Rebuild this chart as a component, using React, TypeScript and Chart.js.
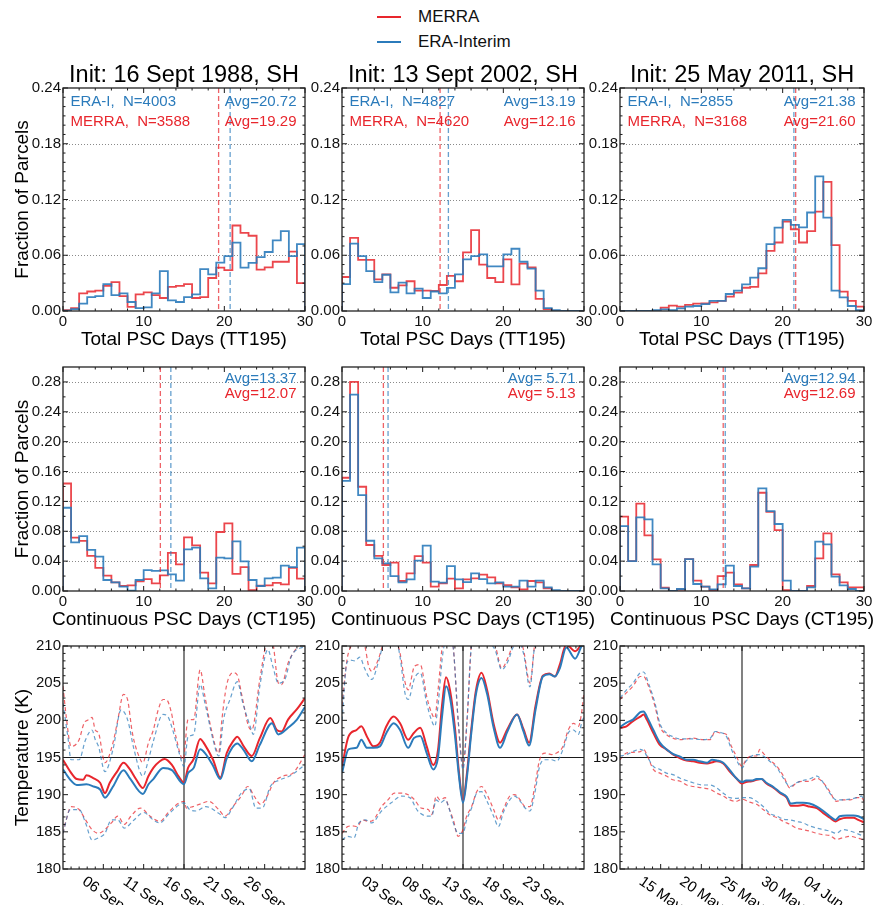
import React, { useEffect, useRef } from 'react';
import { Chart, registerables } from 'chart.js';

Chart.register(...registerables);

type Pt = [number, number];

// ---------------- text ----------------
const PANEL_TITLES = ['Init: 16 Sept 1988, SH', 'Init: 13 Sept 2002, SH', 'Init: 25 May 2011, SH'];
const TT_XLABEL = 'Total PSC Days (TT195)';
const CT_XLABEL = 'Continuous PSC Days (CT195)';
const FRAC_YLABEL = 'Fraction of Parcels';
const TEMP_YLABEL = 'Temperature (K)';
const LEGEND_LABELS = ['MERRA', 'ERA-Interim'];

const N_ERA = [4003, 4827, 2855];
const N_MERRA = [3588, 4620, 3168];
const TT_AVG_ERA = [20.72, 13.19, 21.38];
const TT_AVG_MERRA = [19.29, 12.16, 21.6];
const CT_AVG_ERA = [13.37, 5.71, 12.94];
const CT_AVG_MERRA = [12.07, 5.13, 12.69];

// ---------------- ticks ----------------
const TT_TICKS_Y = [0, 0.06, 0.12, 0.18, 0.24];
const CT_TICKS_Y = [0, 0.04, 0.08, 0.12, 0.16, 0.2, 0.24, 0.28];
const DAYS_TICKS_X = [0, 10, 20, 30];
const TEMP_TICKS_Y = [180, 185, 190, 195, 200, 205, 210];
const DATE_TICK_OFFSETS = [-10, -5, 0, 5, 10];
const DATE_LABELS = [
  ['06 Sep', '11 Sep', '16 Sep', '21 Sep', '26 Sep'],
  ['03 Sep', '08 Sep', '13 Sep', '18 Sep', '23 Sep'],
  ['15 May', '20 May', '25 May', '30 May', '04 Jun'],
];

// ---------------- histograms (fraction per 1-day bin, 0..30) ----------------
const TT88_MERRA = [0.001, 0.003, 0.019, 0.021, 0.022, 0.027, 0.031, 0.016, 0.0045, 0.018, 0.02, 0.017, 0.014, 0.026, 0.027, 0.029, 0.014, 0.015, 0.0355, 0.0467, 0.044, 0.092, 0.084, 0.081, 0.0445, 0.047, 0.053, 0.053, 0.064, 0.03];
const TT88_ERA = [0.0003, 0.002, 0.008, 0.015, 0.016, 0.029, 0.017, 0.019, 0.0097, 0.003, 0.004, 0.019, 0.043, 0.0115, 0.0097, 0.015, 0.018, 0.045, 0.0395, 0.052, 0.059, 0.0736, 0.0467, 0.0517, 0.058, 0.0635, 0.076, 0.086, 0.059, 0.072];
const TT02_MERRA = [0.0366, 0.0786, 0.055, 0.055, 0.034, 0.0395, 0.025, 0.0276, 0.032, 0.022, 0.022, 0.0215, 0.028, 0.0377, 0.032, 0.063, 0.087, 0.05, 0.0355, 0.031, 0.0556, 0.0287, 0.051, 0.047, 0.013, 0.002, 0, 0, 0, 0];
const TT02_ERA = [0.029, 0.0725, 0.059, 0.043, 0.031, 0.039, 0.02, 0.0305, 0.019, 0.024, 0.014, 0.021, 0.019, 0.0248, 0.0395, 0.0556, 0.059, 0.061, 0.048, 0.048, 0.061, 0.067, 0.053, 0.0456, 0.022, 0.003, 0.001, 0, 0, 0];
const TT11_MERRA = [0, 0, 0, 0, 0, 0.0036, 0.0057, 0.0047, 0.0065, 0.008, 0.0083, 0.0093, 0.011, 0.0155, 0.0198, 0.025, 0.026, 0.0406, 0.0647, 0.0737, 0.0963, 0.088, 0.0737, 0.086, 0.107, 0.139, 0.071, 0.0208, 0.011, 0.0047];
const TT11_ERA = [0, 0, 0, 0, 0.001, 0.0018, 0.001, 0.0029, 0.0047, 0.0054, 0.0075, 0.011, 0.011, 0.0183, 0.022, 0.0287, 0.0359, 0.046, 0.072, 0.0898, 0.098, 0.0927, 0.09, 0.106, 0.1448, 0.1006, 0.022, 0.0147, 0.0054, 0.001];

const CT88_MERRA = [0.144, 0.0714, 0.067, 0.047, 0.031, 0.0205, 0.0116, 0.0067, 0.0076, 0.013, 0.016, 0.0103, 0.021, 0.051, 0.0357, 0.0718, 0.061, 0.0245, 0.0103, 0.079, 0.0905, 0.023, 0.032, 0.001, 0.007, 0.0076, 0.011, 0.0089, 0.031, 0.0165];
const CT88_ERA = [0.1115, 0.065, 0.0736, 0.055, 0.046, 0.0147, 0.0116, 0.0058, 0.0004, 0.0147, 0.028, 0.027, 0.0277, 0.0223, 0.0138, 0.0557, 0.058, 0.017, 0.0036, 0.0446, 0.0437, 0.0665, 0.0397, 0.0147, 0.0067, 0.017, 0.0178, 0.034, 0.032, 0.058];
const CT02_MERRA = [0.1517, 0.28, 0.1396, 0.0616, 0.047, 0.0348, 0.038, 0.0134, 0.0236, 0.0468, 0.038, 0.0058, 0.0103, 0.0165, 0.0036, 0.0156, 0.017, 0.0219, 0.0183, 0.0103, 0.008, 0.0049, 0.0022, 0.0134, 0.0116, 0.0036, 0, 0, 0, 0];
const CT02_ERA = [0.1476, 0.263, 0.1284, 0.0673, 0.0437, 0.037, 0.02, 0.0116, 0.0156, 0.0406, 0.0607, 0.0125, 0.0112, 0.0334, 0.0156, 0.012, 0.0236, 0.016, 0.0103, 0.0116, 0.0058, 0.0058, 0.0138, 0.0058, 0.0138, 0.0049, 0.0013, 0, 0, 0];
const CT11_MERRA = [0.0995, 0.04, 0.117, 0.0745, 0.0424, 0.0045, 0, 0.002, 0.0428, 0.0138, 0.0058, 0.0013, 0.02, 0.0245, 0.0089, 0.0036, 0.0348, 0.1316, 0.106, 0.0816, 0.0013, 0, 0, 0.0067, 0.0437, 0.0772, 0.0223, 0.0116, 0.0049, 0.0049];
const CT11_ERA = [0.087, 0.04, 0.0986, 0.0959, 0.0357, 0.0036, 0, 0.0027, 0.0428, 0.0094, 0.0058, 0.0022, 0.0089, 0.0339, 0.0067, 0.0036, 0.0326, 0.1374, 0.107, 0.0897, 0.0138, 0, 0, 0.0049, 0.066, 0.0624, 0.0192, 0.0076, 0.0027, 0];

// ---------------- temperatures: [day offset from init, K] ----------------
const T88_MERRA_MEAN: Pt[] = [[-15, 194.7], [-14.1, 193.1], [-13.3, 192.1], [-12.5, 192.0], [-12.1, 192.6], [-11.2, 192.2], [-10.4, 191.6], [-9.8, 190.2], [-9.2, 191.6], [-8.3, 193.1], [-7.5, 194.3], [-6.7, 193.4], [-5.9, 192.0], [-5.1, 190.9], [-4.4, 192.5], [-3.8, 193.6], [-3.0, 194.5], [-2.4, 194.8], [-1.5, 194.0], [-0.7, 192.5], [0, 191.6], [0.5, 193.6], [1.2, 194.8], [2.0, 197.5], [2.6, 196.7], [3.6, 194.7], [4.5, 192.3], [5.3, 195.6], [6.1, 197.2], [6.6, 197.8], [7.4, 196.5], [8.4, 195.2], [9.4, 197.6], [10.7, 200.3], [11.5, 198.7], [12.1, 198.5], [12.9, 200.1], [14.0, 201.5], [15, 203.0]];
const T88_ERA_MEAN: Pt[] = [[-15, 193.4], [-14.1, 192.0], [-13.3, 191.3], [-12.1, 191.4], [-11.2, 191.1], [-10.4, 190.7], [-9.8, 189.6], [-8.8, 191.1], [-7.5, 193.3], [-6.7, 192.2], [-5.1, 190.1], [-4.4, 191.4], [-3.8, 192.1], [-2.6, 193.6], [-1.5, 193.3], [0, 191.4], [0.5, 192.9], [1.2, 193.6], [2.0, 196.1], [2.6, 195.6], [3.6, 193.9], [4.5, 192.1], [5.3, 194.9], [6.6, 196.9], [7.4, 196.0], [8.4, 194.5], [9.4, 196.7], [10.9, 199.6], [11.7, 198.1], [12.9, 199.0], [14.0, 200.1], [15, 201.8]];
const T88_MERRA_HI: Pt[] = [[-15, 204.6], [-14.6, 200.5], [-14.0, 196.5], [-13.0, 197.4], [-12.4, 199.6], [-11.8, 200.1], [-11.4, 200.4], [-11.0, 198.7], [-10.6, 198.3], [-9.8, 194.3], [-8.8, 197.0], [-8.2, 200.1], [-7.5, 203.5], [-7.0, 202.8], [-6.4, 198.3], [-5.6, 195.2], [-5.1, 194.3], [-4.4, 197.0], [-3.8, 198.7], [-3.2, 201.4], [-2.6, 202.8], [-2.2, 202.8], [-1.6, 201.2], [-1.0, 197.8], [-0.1, 194.7], [0.5, 200.1], [1.2, 200.1], [2.0, 206.8], [2.6, 203.2], [3.4, 198.7], [4.3, 195.6], [4.7, 200.1], [5.3, 204.8], [6.1, 206.4], [6.6, 206.1], [7.2, 203.2], [8.0, 199.2], [8.4, 198.7], [9.4, 205.5], [10.2, 210.2], [10.9, 210.8], [11.7, 205.0], [12.1, 204.8], [12.9, 207.7], [13.8, 209.5], [15, 211.0]];
const T88_ERA_HI: Pt[] = [[-15, 202.3], [-14.4, 197.8], [-14.0, 194.7], [-13.0, 194.7], [-12.2, 197.4], [-11.4, 198.7], [-11.0, 197.4], [-10.6, 196.5], [-9.8, 193.1], [-8.8, 196.1], [-7.8, 201.4], [-7.0, 200.1], [-6.2, 196.1], [-5.1, 192.5], [-4.4, 194.7], [-3.8, 197.2], [-2.6, 200.8], [-2.0, 200.5], [-1.4, 198.7], [-0.6, 195.6], [0, 193.8], [0.5, 197.8], [1.2, 198.1], [2.0, 204.8], [2.6, 202.3], [3.6, 197.4], [4.3, 195.2], [4.9, 200.1], [5.7, 202.8], [6.6, 205.2], [7.3, 202.3], [8.2, 199.2], [8.6, 198.1], [9.4, 204.6], [10.4, 209.5], [11.0, 207.3], [11.7, 205.0], [12.5, 205.5], [13.3, 208.6], [15, 210.0]];
const T88_MERRA_LO: Pt[] = [[-15, 184.8], [-14.6, 186.6], [-14.0, 188.4], [-13.0, 188.0], [-12.2, 186.6], [-11.4, 185.3], [-10.6, 184.8], [-9.8, 185.3], [-9.0, 186.2], [-8.2, 187.1], [-7.4, 186.0], [-6.6, 187.1], [-5.4, 188.2], [-4.2, 187.1], [-3.0, 186.4], [-1.8, 187.8], [0, 189.1], [0.3, 188.2], [1.1, 188.4], [1.9, 188.7], [3.1, 189.1], [4.3, 188.0], [5.1, 187.1], [5.9, 188.2], [7.1, 189.8], [7.9, 191.1], [8.7, 189.8], [9.5, 188.7], [10.3, 189.8], [11.1, 191.6], [12.3, 192.5], [13.5, 192.9], [15, 195.4]];
const T88_ERA_LO: Pt[] = [[-15, 184.8], [-14.1, 188.0], [-13.0, 188.0], [-12.2, 186.2], [-11.4, 183.9], [-10.6, 184.2], [-9.8, 184.8], [-9.0, 186.6], [-8.2, 186.6], [-7.4, 185.5], [-6.2, 186.6], [-5.0, 187.6], [-3.8, 186.6], [-3.0, 186.2], [-1.8, 187.5], [0, 188.9], [0.7, 188.0], [1.5, 187.8], [2.7, 188.4], [4.3, 187.5], [5.1, 186.9], [5.9, 188.0], [7.1, 190.2], [8.1, 190.8], [8.9, 188.2], [9.7, 188.2], [10.7, 191.1], [11.9, 192.0], [13.1, 192.5], [15, 194.0]];

const T02_MERRA_MEAN: Pt[] = [[-15, 193.8], [-14.2, 197.8], [-13.2, 198.7], [-12.6, 199.2], [-11.9, 197.8], [-11.1, 196.5], [-10.3, 197.0], [-9.5, 199.2], [-8.6, 200.5], [-7.8, 199.6], [-6.8, 197.4], [-6.1, 198.3], [-5.3, 199.0], [-4.5, 196.5], [-3.7, 194.0], [-3.1, 196.0], [-2.6, 202.0], [-2.1, 205.8], [-1.6, 204.0], [-1.0, 199.0], [-0.5, 193.0], [0, 189.2], [0.5, 193.0], [1.0, 198.5], [1.6, 204.0], [2.3, 206.4], [3.0, 204.0], [3.8, 199.5], [4.6, 197.0], [5.5, 198.8], [6.7, 200.8], [7.5, 198.8], [8.2, 197.0], [9.0, 202.0], [9.9, 206.0], [10.7, 206.3], [11.4, 205.9], [12.0, 207.5], [12.8, 210.2], [13.9, 209.3], [14.7, 210.3], [15, 211.0]];
const T02_ERA_MEAN: Pt[] = [[-15, 192.9], [-14.2, 196.1], [-13.2, 196.3], [-12.6, 197.4], [-11.9, 196.3], [-11.1, 196.3], [-10.3, 196.5], [-9.5, 198.3], [-8.6, 199.6], [-7.8, 198.7], [-6.8, 196.3], [-6.1, 197.6], [-5.3, 197.9], [-4.5, 195.6], [-3.7, 193.4], [-3.1, 195.0], [-2.6, 200.5], [-2.1, 204.6], [-1.6, 203.0], [-1.0, 198.0], [-0.5, 192.5], [0, 188.9], [0.5, 192.5], [1.0, 198.0], [1.6, 203.5], [2.3, 205.7], [3.0, 203.5], [3.8, 199.0], [4.6, 196.3], [5.5, 198.5], [6.7, 200.8], [7.5, 198.5], [8.2, 196.6], [9.0, 201.5], [9.9, 205.9], [10.7, 206.2], [11.4, 205.9], [12.0, 207.0], [12.8, 209.8], [13.9, 208.3], [14.7, 210.0], [15, 210.5]];
const T02_MERRA_HI: Pt[] = [[-15, 202.0], [-14.4, 208.0], [-14.0, 209.7], [-13.4, 210.3], [-12.8, 210.4], [-12.2, 210.0], [-11.7, 207.3], [-11.3, 206.6], [-10.5, 208.2], [-9.9, 210.2], [-9.1, 211.0], [-8.2, 210.5], [-7.8, 209.0], [-7.2, 205.2], [-6.8, 204.1], [-6.0, 207.3], [-5.3, 207.5], [-4.5, 203.2], [-3.9, 201.0], [-3.5, 200.3], [-3.1, 204.0], [-2.5, 210.5], [-2.0, 211.5], [-1.3, 210.5], [-0.6, 200.0], [0, 193.8], [0.5, 200.0], [1.1, 210.5], [2.3, 212.0], [3.3, 211.0], [4.0, 210.0], [4.8, 207.0], [5.6, 208.5], [6.2, 210.2], [7.0, 211.0], [7.5, 209.5], [8.3, 205.0], [8.9, 210.2], [10.0, 212.0], [15, 213.0]];
const T02_ERA_HI: Pt[] = [[-15, 200.0], [-14.4, 207.7], [-14.0, 208.1], [-13.4, 208.0], [-12.8, 208.5], [-12.2, 207.0], [-11.7, 205.9], [-11.3, 205.5], [-10.5, 207.8], [-9.9, 210.1], [-9.1, 211.0], [-8.2, 210.5], [-7.8, 208.5], [-7.2, 203.7], [-6.8, 202.8], [-6.0, 205.7], [-5.3, 206.4], [-4.5, 202.3], [-3.9, 200.0], [-3.5, 199.2], [-3.1, 202.0], [-2.5, 209.0], [-2.0, 211.0], [-1.3, 210.3], [-0.6, 200.0], [0, 193.4], [0.5, 200.0], [1.1, 210.3], [2.3, 211.5], [3.3, 210.5], [4.0, 209.4], [4.8, 206.8], [5.6, 208.0], [6.2, 209.8], [7.0, 210.5], [7.5, 209.0], [8.3, 204.5], [8.9, 210.0], [10.0, 211.5], [15, 213.0]];
const T02_MERRA_LO: Pt[] = [[-15, 184.8], [-14.3, 185.7], [-13.7, 185.8], [-13.1, 185.7], [-12.5, 186.6], [-11.7, 186.4], [-11.1, 186.6], [-10.1, 188.4], [-9.3, 189.3], [-8.5, 190.2], [-7.6, 190.2], [-6.8, 190.0], [-6.0, 189.3], [-5.2, 188.2], [-4.3, 188.0], [-3.9, 187.3], [-3.3, 189.8], [-2.85, 189.3], [-2.2, 189.6], [-1.8, 188.4], [-1.2, 186.6], [-0.6, 184.4], [0, 185.3], [0.45, 187.1], [1.07, 188.4], [1.7, 190.4], [2.3, 191.1], [2.9, 190.2], [3.8, 188.0], [4.4, 186.6], [5.0, 188.0], [5.8, 189.8], [6.4, 190.0], [7.1, 189.3], [7.7, 188.4], [8.3, 188.4], [8.9, 191.1], [9.5, 194.7], [10.2, 195.6], [11.0, 195.4], [11.6, 195.6], [12.4, 196.5], [13.05, 198.7], [13.7, 199.6], [14.3, 199.2], [14.7, 201.0], [15, 203.7]];
const T02_ERA_LO: Pt[] = [[-15, 183.9], [-14.3, 184.4], [-13.5, 184.2], [-12.9, 186.2], [-12.1, 186.6], [-11.3, 186.2], [-10.1, 187.8], [-8.9, 188.9], [-7.6, 189.8], [-6.6, 189.6], [-5.6, 187.8], [-4.3, 187.1], [-3.9, 187.1], [-3.3, 189.3], [-2.85, 188.9], [-2.2, 189.3], [-1.8, 188.4], [-1.2, 186.2], [-0.6, 184.8], [0, 184.8], [0.45, 186.6], [1.07, 188.2], [1.7, 190.2], [2.3, 190.4], [2.9, 189.3], [3.8, 187.1], [4.4, 185.7], [5.0, 187.6], [5.8, 189.3], [6.4, 189.8], [7.1, 189.1], [7.7, 188.2], [8.3, 187.8], [8.9, 190.2], [9.5, 193.8], [10.2, 194.7], [11.0, 194.7], [11.6, 194.5], [12.4, 196.1], [13.05, 198.3], [13.7, 198.7], [14.3, 198.1], [14.7, 199.6], [15, 200.5]];

const T11_MERRA_MEAN: Pt[] = [[-15, 199.0], [-14.2, 199.2], [-13.4, 199.9], [-12.5, 200.5], [-12.1, 200.8], [-11.7, 200.1], [-10.9, 198.3], [-10.1, 196.7], [-9.3, 196.1], [-8.5, 195.4], [-7.6, 194.9], [-6.8, 194.6], [-6.0, 194.5], [-5.2, 194.3], [-4.3, 194.2], [-3.5, 194.4], [-3.1, 194.5], [-2.3, 194.2], [-1.5, 193.1], [-0.7, 192.2], [0, 191.5], [0.5, 191.7], [1.2, 191.8], [1.8, 192.0], [2.4, 192.1], [3.0, 191.5], [3.9, 190.9], [4.7, 190.2], [5.5, 189.6], [6.0, 188.5], [6.7, 188.5], [7.5, 188.6], [8.3, 188.4], [9.2, 188.2], [10.0, 187.5], [10.8, 186.9], [11.5, 186.4], [12.0, 186.7], [12.9, 186.9], [13.7, 186.9], [14.3, 186.6], [15, 186.3]];
const T11_ERA_MEAN: Pt[] = [[-15, 199.1], [-14.2, 199.7], [-13.4, 200.1], [-12.5, 201.1], [-12.1, 201.2], [-11.7, 200.5], [-10.9, 198.7], [-10.1, 197.0], [-9.3, 196.1], [-8.5, 195.5], [-7.6, 195.1], [-6.8, 194.7], [-6.0, 194.7], [-5.2, 194.5], [-4.3, 194.3], [-3.7, 194.7], [-3.1, 194.6], [-2.3, 194.3], [-1.5, 193.3], [-0.7, 192.2], [0, 191.7], [0.5, 191.9], [1.2, 191.9], [1.8, 192.1], [2.4, 192.1], [3.0, 191.6], [3.9, 191.0], [4.7, 190.3], [5.5, 189.7], [6.0, 188.8], [6.7, 188.9], [7.5, 188.9], [8.3, 188.8], [9.2, 188.4], [10.0, 187.8], [10.8, 187.1], [11.5, 186.6], [12.0, 187.1], [12.9, 187.2], [13.7, 187.2], [14.3, 187.1], [15, 186.7]];
const T11_MERRA_HI: Pt[] = [[-15, 202.8], [-14.4, 203.5], [-13.4, 204.6], [-12.5, 205.9], [-12.1, 205.9], [-11.5, 204.6], [-10.7, 201.9], [-10.1, 199.2], [-9.3, 198.1], [-8.5, 197.6], [-7.6, 197.4], [-6.8, 197.5], [-6.0, 197.6], [-4.8, 197.4], [-3.9, 197.4], [-3.3, 198.5], [-2.7, 198.3], [-1.9, 198.1], [-1.3, 196.5], [-0.7, 195.2], [0, 193.8], [0.5, 194.7], [1.2, 195.2], [1.8, 195.2], [2.2, 196.1], [2.6, 195.6], [3.4, 194.7], [4.3, 193.8], [5.1, 192.5], [5.9, 190.9], [6.7, 191.6], [7.5, 191.8], [8.3, 191.8], [9.2, 192.2], [10.0, 191.6], [10.8, 190.4], [11.6, 189.1], [12.4, 189.3], [13.3, 189.3], [14.1, 189.6], [14.7, 189.6], [15, 189.1]];
const T11_ERA_HI: Pt[] = [[-15, 203.0], [-14.2, 204.1], [-13.4, 205.0], [-12.5, 206.4], [-12.1, 206.5], [-11.5, 205.0], [-10.7, 202.3], [-10.1, 199.6], [-9.3, 198.3], [-8.5, 197.8], [-7.6, 197.5], [-6.8, 197.5], [-6.0, 197.5], [-4.8, 197.4], [-3.9, 197.6], [-3.3, 198.5], [-2.7, 198.4], [-1.9, 197.8], [-1.3, 196.1], [-0.7, 194.7], [0, 193.6], [0.5, 194.5], [1.2, 195.2], [1.8, 195.4], [2.2, 195.4], [2.6, 195.2], [3.4, 194.5], [4.3, 193.6], [5.1, 192.2], [5.9, 191.1], [6.7, 191.6], [7.5, 191.9], [8.3, 192.1], [9.2, 192.5], [10.0, 191.6], [10.8, 190.2], [11.6, 189.3], [12.4, 189.3], [13.3, 189.4], [14.1, 189.6], [14.7, 189.8], [15, 189.1]];
const T11_MERRA_LO: Pt[] = [[-15, 194.7], [-14.2, 195.6], [-13.4, 195.7], [-12.5, 195.8], [-12.1, 196.1], [-11.7, 195.4], [-10.9, 193.4], [-10.1, 192.9], [-9.3, 192.5], [-8.5, 192.0], [-7.6, 191.8], [-6.8, 191.3], [-6.0, 191.1], [-4.8, 190.9], [-3.9, 190.7], [-3.1, 190.2], [-2.3, 189.8], [-1.5, 189.3], [-0.7, 189.1], [0, 189.4], [0.9, 189.0], [1.8, 188.7], [2.6, 188.0], [3.4, 187.3], [4.3, 186.9], [5.1, 186.4], [5.9, 186.0], [6.7, 185.5], [7.5, 185.3], [8.3, 185.1], [9.2, 184.8], [10.0, 184.6], [10.8, 184.5], [11.6, 184.0], [12.4, 184.2], [13.3, 184.4], [14.1, 184.2], [15, 183.9]];
const T11_ERA_LO: Pt[] = [[-15, 195.2], [-14.2, 195.4], [-13.4, 195.8], [-12.5, 196.1], [-12.1, 195.9], [-11.7, 195.2], [-10.9, 193.8], [-10.1, 193.4], [-9.3, 192.9], [-8.5, 192.7], [-7.6, 192.2], [-6.8, 191.9], [-6.0, 191.6], [-4.8, 191.3], [-3.9, 191.3], [-3.1, 190.9], [-2.3, 190.2], [-1.5, 189.6], [-0.7, 189.5], [0, 189.6], [0.9, 189.6], [1.8, 189.1], [2.6, 188.4], [3.4, 187.5], [4.3, 187.1], [5.1, 186.7], [5.9, 186.6], [6.7, 186.4], [7.5, 186.2], [8.3, 185.8], [9.2, 185.5], [10.0, 185.3], [10.8, 185.1], [11.6, 184.8], [12.4, 185.3], [13.3, 185.1], [14.1, 184.8], [15, 184.4]];

// ---------------- grouping ----------------
const TT_MERRA = [TT88_MERRA, TT02_MERRA, TT11_MERRA];
const TT_ERA = [TT88_ERA, TT02_ERA, TT11_ERA];
const CT_MERRA = [CT88_MERRA, CT02_MERRA, CT11_MERRA];
const CT_ERA = [CT88_ERA, CT02_ERA, CT11_ERA];
const TEMP_SETS = [
  { eraMean: T88_ERA_MEAN, merraMean: T88_MERRA_MEAN, eraHi: T88_ERA_HI, eraLo: T88_ERA_LO, merraHi: T88_MERRA_HI, merraLo: T88_MERRA_LO },
  { eraMean: T02_ERA_MEAN, merraMean: T02_MERRA_MEAN, eraHi: T02_ERA_HI, eraLo: T02_ERA_LO, merraHi: T02_MERRA_HI, merraLo: T02_MERRA_LO },
  { eraMean: T11_ERA_MEAN, merraMean: T11_MERRA_MEAN, eraHi: T11_ERA_HI, eraLo: T11_ERA_LO, merraHi: T11_MERRA_HI, merraLo: T11_MERRA_LO },
];

// ---------------- style / geometry ----------------
const FONT = "'Liberation Sans', Arial, Helvetica, sans-serif";
const RED = '#e8262d';
const BLUE = '#2b7bbb';
const RED_H = 'rgba(232,38,45,0.85)';
const BLUE_H = 'rgba(43,123,187,0.9)';
const RED_D = 'rgba(232,38,45,0.72)';
const BLUE_D = 'rgba(43,123,187,0.72)';
const INK = '#1a1a1a';
const FIG_W = 878;
const FIG_H = 905;
const COL_L = [63, 342, 620];
const COL_R = [305, 584, 864];
const ROW_T = [88, 367, 646];
const ROW_B = [311, 591, 869];
const YAXIS_W = 50;
const XAXIS_H = 30;

Chart.defaults.font.family = FONT;

function stepPoints(vals: number[]) {
  const pts: { x: number; y: number }[] = [{ x: 0, y: 0 }];
  vals.forEach((v, i) => {
    pts.push({ x: i, y: v });
    pts.push({ x: i + 1, y: v });
  });
  pts.push({ x: vals.length, y: 0 });
  return pts;
}

function minorValues(min: number, max: number, step: number, majors: number[]) {
  const out: number[] = [];
  for (let k = 1; ; k++) {
    const v = +(min + k * step).toFixed(6);
    if (v >= max - 1e-9) break;
    if (majors.some((m) => Math.abs(m - v) < 1e-9)) continue;
    out.push(v);
  }
  return out;
}

function makePlugin(row: number, col: number) {
  const isTemp = row === 2;
  const xMin = isTemp ? -15 : 0;
  const xMax = isTemp ? 15 : 30;
  const xMajor = isTemp ? DATE_TICK_OFFSETS : DAYS_TICKS_X;
  const xMinor = minorValues(xMin, xMax, isTemp ? 1 : 2, xMajor);
  const yMin = isTemp ? 180 : 0;
  const yMax = row === 0 ? 0.24 : row === 1 ? 0.3 : 210;
  const yMajor = row === 0 ? TT_TICKS_Y : row === 1 ? CT_TICKS_Y : TEMP_TICKS_Y;
  const yMinor = minorValues(yMin, yMax, row === 0 ? 0.01 : row === 1 ? 0.02 : 1, yMajor);

  return {
    id: 'mpl_' + row + '_' + col,
    beforeDatasetsDraw(chart: any) {
      const { ctx, chartArea: a, scales } = chart;
      const xs = scales.x;
      const ys = scales.y;
      ctx.save();
      if (!isTemp) {
        ctx.strokeStyle = '#8a8a8a';
        ctx.lineWidth = 1;
        ctx.setLineDash([1, 2]);
        for (const v of yMajor) {
          if (v <= yMin || v >= yMax) continue;
          const y = Math.round(ys.getPixelForValue(v)) + 0.5;
          ctx.beginPath();
          ctx.moveTo(a.left, y);
          ctx.lineTo(a.right, y);
          ctx.stroke();
        }
      } else {
        ctx.strokeStyle = INK;
        ctx.lineWidth = 1.1;
        ctx.setLineDash([]);
        const y = ys.getPixelForValue(195);
        ctx.beginPath();
        ctx.moveTo(a.left, y);
        ctx.lineTo(a.right, y);
        ctx.stroke();
        const x = xs.getPixelForValue(0);
        ctx.beginPath();
        ctx.moveTo(x, a.top);
        ctx.lineTo(x, a.bottom);
        ctx.stroke();
      }
      ctx.restore();
    },
    afterDatasetsDraw(chart: any) {
      const { ctx, chartArea: a, scales } = chart;
      const xs = scales.x;
      const ys = scales.y;
      ctx.save();

      // average markers
      if (!isTemp) {
        const avgM = row === 0 ? TT_AVG_MERRA[col] : CT_AVG_MERRA[col];
        const avgE = row === 0 ? TT_AVG_ERA[col] : CT_AVG_ERA[col];
        ctx.lineWidth = 1.3;
        ctx.setLineDash([5, 3]);
        for (const [v, c] of [[avgM, RED_D], [avgE, BLUE_D]] as [number, string][]) {
          const x = xs.getPixelForValue(v);
          ctx.strokeStyle = c;
          ctx.beginPath();
          ctx.moveTo(x, a.top);
          ctx.lineTo(x, a.bottom);
          ctx.stroke();
        }
        ctx.setLineDash([]);
      }

      // inward ticks on all four sides
      ctx.strokeStyle = INK;
      ctx.lineWidth = 1;
      const tickX = (v: number, len: number) => {
        const x = xs.getPixelForValue(v);
        ctx.beginPath();
        ctx.moveTo(x, a.bottom);
        ctx.lineTo(x, a.bottom - len);
        ctx.moveTo(x, a.top);
        ctx.lineTo(x, a.top + len);
        ctx.stroke();
      };
      const tickY = (v: number, len: number) => {
        const y = ys.getPixelForValue(v);
        ctx.beginPath();
        ctx.moveTo(a.left, y);
        ctx.lineTo(a.left + len, y);
        ctx.moveTo(a.right, y);
        ctx.lineTo(a.right - len, y);
        ctx.stroke();
      };
      xMajor.forEach((v) => tickX(v, 5));
      xMinor.forEach((v) => tickX(v, 2.5));
      yMajor.forEach((v) => tickY(v, 5));
      yMinor.forEach((v) => tickY(v, 2.5));

      // frame
      ctx.lineWidth = 1.3;
      ctx.strokeStyle = '#222';
      ctx.strokeRect(a.left, a.top, a.right - a.left, a.bottom - a.top);

      const cx = (a.left + a.right) / 2;
      const cy = (a.top + a.bottom) / 2;

      // panel title
      if (row === 0) {
        ctx.fillStyle = '#000';
        ctx.font = `23.5px ${FONT}`;
        ctx.textAlign = 'center';
        ctx.textBaseline = 'alphabetic';
        ctx.fillText(PANEL_TITLES[col], cx, a.top - 6);
      }

      // in-plot annotations
      ctx.font = `15px ${FONT}`;
      ctx.textBaseline = 'alphabetic';
      const fmtAvg = (v: number) => 'Avg=' + v.toFixed(2).padStart(5, ' ');
      if (row === 0) {
        ctx.textAlign = 'left';
        ctx.fillStyle = BLUE;
        ctx.fillText(`ERA-I,  N=${N_ERA[col]}`, a.left + 7.5, a.top + 18);
        ctx.fillStyle = RED;
        ctx.fillText(`MERRA,  N=${N_MERRA[col]}`, a.left + 7.5, a.top + 37.5);
        ctx.textAlign = 'right';
        ctx.fillStyle = BLUE;
        ctx.fillText(fmtAvg(TT_AVG_ERA[col]), a.right - 8.5, a.top + 18);
        ctx.fillStyle = RED;
        ctx.fillText(fmtAvg(TT_AVG_MERRA[col]), a.right - 8.5, a.top + 37.5);
      } else if (row === 1) {
        ctx.textAlign = 'right';
        ctx.fillStyle = BLUE;
        ctx.fillText(fmtAvg(CT_AVG_ERA[col]), a.right - 8.5, a.top + 16);
        ctx.fillStyle = RED;
        ctx.fillText(fmtAvg(CT_AVG_MERRA[col]), a.right - 8.5, a.top + 30.5);
      }

      // x-axis title
      ctx.fillStyle = '#000';
      if (!isTemp) {
        ctx.font = `19px ${FONT}`;
        ctx.textAlign = 'center';
        ctx.fillText(row === 0 ? TT_XLABEL : CT_XLABEL, cx, a.bottom + 34);
      } else {
        // rotated date tick labels
        ctx.font = `15px ${FONT}`;
        const th = (35 * Math.PI) / 180;
        DATE_TICK_OFFSETS.forEach((d, i) => {
          const lbl = DATE_LABELS[col][i];
          const x = xs.getPixelForValue(d);
          const w = ctx.measureText(lbl).width;
          const h = 15;
          const H = w * Math.sin(th) + h * Math.cos(th);
          ctx.save();
          ctx.translate(x, a.bottom + 5 + H / 2);
          ctx.rotate(th);
          ctx.textAlign = 'center';
          ctx.textBaseline = 'middle';
          ctx.fillText(lbl, 0, 0);
          ctx.restore();
        });
      }

      // y-axis title
      if (col === 0) {
        ctx.save();
        ctx.font = `19px ${FONT}`;
        ctx.translate(28, cy);
        ctx.rotate(-Math.PI / 2);
        ctx.textAlign = 'center';
        ctx.textBaseline = 'alphabetic';
        ctx.fillStyle = '#000';
        ctx.fillText(row === 2 ? TEMP_YLABEL : FRAC_YLABEL, 0, 0);
        ctx.restore();
      }
      ctx.restore();
    },
  };
}

function buildConfig(row: number, col: number): any {
  const isTemp = row === 2;
  let datasets: any[];
  if (!isTemp) {
    const era = row === 0 ? TT_ERA[col] : CT_ERA[col];
    const merra = row === 0 ? TT_MERRA[col] : CT_MERRA[col];
    const hist = (label: string, vals: number[], color: string) => ({
      label,
      data: stepPoints(vals),
      borderColor: color,
      borderWidth: 1.8,
      pointRadius: 0,
      tension: 0,
      fill: false,
      borderJoinStyle: 'miter',
    });
    datasets = [hist('ERA-Interim', era, BLUE_H), hist('MERRA', merra, RED_H)];
  } else {
    const s = TEMP_SETS[col];
    const line = (label: string, pts: Pt[], color: string, width: number, dash: number[]) => ({
      label,
      data: pts.map(([x, y]) => ({ x, y })),
      borderColor: color,
      borderWidth: width,
      borderDash: dash,
      pointRadius: 0,
      cubicInterpolationMode: 'monotone',
      fill: false,
      clip: 0,
    });
    datasets = [
      line('ERA-Interim mean', s.eraMean, BLUE, 2, []),
      line('MERRA mean', s.merraMean, RED, 2, []),
      line('ERA-Interim max', s.eraHi, BLUE_D, 1.2, [4, 3]),
      line('ERA-Interim min', s.eraLo, BLUE_D, 1.2, [4, 3]),
      line('MERRA max', s.merraHi, RED_D, 1.2, [4, 3]),
      line('MERRA min', s.merraLo, RED_D, 1.2, [4, 3]),
    ];
  }
  const yTicks = row === 0 ? TT_TICKS_Y : row === 1 ? CT_TICKS_Y : TEMP_TICKS_Y;
  const xTicks = isTemp ? DATE_TICK_OFFSETS : DAYS_TICKS_X;
  const L = COL_L[col];
  const R = COL_R[col];
  const T = ROW_T[row];
  const B = ROW_B[row];

  return {
    type: 'line',
    data: { datasets },
    plugins: [makePlugin(row, col)],
    options: {
      animation: false,
      responsive: false,
      devicePixelRatio: 1,
      events: [],
      layout: { padding: { left: L - YAXIS_W, right: FIG_W - R, top: T, bottom: FIG_H - B - XAXIS_H } },
      plugins: { legend: { display: false }, tooltip: { enabled: false }, title: { display: false } },
      scales: {
        x: {
          type: 'linear',
          min: isTemp ? -15 : 0,
          max: isTemp ? 15 : 30,
          grid: { display: false, drawTicks: false, tickLength: 0 },
          border: { display: false },
          afterBuildTicks: (sc: any) => {
            sc.ticks = xTicks.map((v) => ({ value: v }));
          },
          afterFit: (sc: any) => {
            sc.height = XAXIS_H;
          },
          ticks: {
            display: !isTemp,
            autoSkip: false,
            maxRotation: 0,
            minRotation: 0,
            padding: 2,
            color: '#111',
            font: { family: FONT, size: 15 },
            callback: (v: any) => String(v),
          },
        },
        y: {
          type: 'linear',
          min: isTemp ? 180 : 0,
          max: row === 0 ? 0.24 : row === 1 ? 0.3 : 210,
          grid: { display: false, drawTicks: false, tickLength: 0 },
          border: { display: false },
          afterBuildTicks: (sc: any) => {
            sc.ticks = yTicks.map((v) => ({ value: v }));
          },
          afterFit: (sc: any) => {
            sc.width = YAXIS_W;
          },
          ticks: {
            autoSkip: false,
            padding: 2,
            color: '#111',
            font: { family: FONT, size: 15 },
            callback: (v: any) => (isTemp ? String(v) : Number(v).toFixed(2)),
          },
        },
      },
    },
  };
}

function Panel({ row, col }: { row: number; col: number }) {
  const ref = useRef<HTMLCanvasElement>(null);
  useEffect(() => {
    const chart = new Chart(ref.current as HTMLCanvasElement, buildConfig(row, col));
    return () => chart.destroy();
  }, [row, col]);
  return (
    <canvas
      ref={ref}
      width={FIG_W}
      height={FIG_H}
      style={{ position: 'absolute', left: 0, top: 0, width: FIG_W, height: FIG_H, pointerEvents: 'none' }}
    />
  );
}

function Legend() {
  const rows = [
    { label: LEGEND_LABELS[0], color: RED, y: 17 },
    { label: LEGEND_LABELS[1], color: BLUE, y: 42 },
  ];
  return (
    <>
      {rows.map((r) => (
        <React.Fragment key={r.label}>
          <div style={{ position: 'absolute', left: 377, top: r.y - 1, width: 24, height: 1.8, background: r.color }} />
          <div
            style={{
              position: 'absolute',
              left: 418,
              top: r.y - 10,
              height: 20,
              lineHeight: '20px',
              fontSize: 17,
              fontFamily: FONT,
              color: '#111',
              whiteSpace: 'nowrap',
            }}
          >
            {r.label}
          </div>
        </React.Fragment>
      ))}
    </>
  );
}

export default function App() {
  const panels: { row: number; col: number }[] = [];
  for (let r = 0; r < 3; r++) for (let c = 0; c < 3; c++) panels.push({ row: r, col: c });
  return (
    <div
      style={{
        position: 'absolute',
        left: 0,
        top: 0,
        width: FIG_W,
        height: FIG_H,
        overflow: 'hidden',
        background: '#fff',
      }}
    >
      <Legend />
      {panels.map((p) => (
        <Panel key={`${p.row}-${p.col}`} row={p.row} col={p.col} />
      ))}
    </div>
  );
}
